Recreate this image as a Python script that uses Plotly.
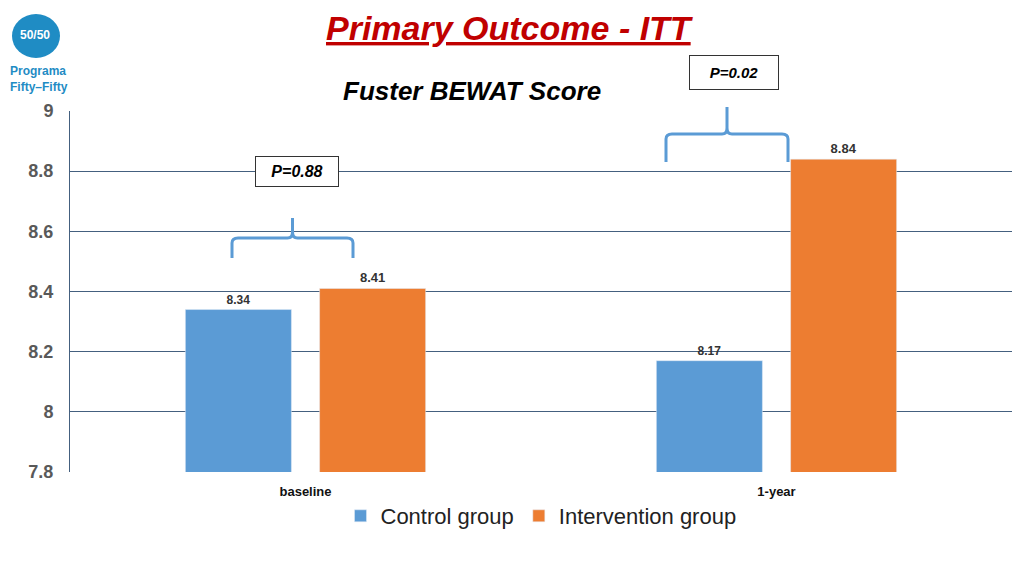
import plotly.graph_objects as go

categories = ["baseline", "1-year"]
control = [8.34, 8.17]
intervention = [8.41, 8.84]

OFF = 8  # page offset
L, R, T, B = 62, 20, 103, 112
PW, PH = 1024 - L - R, 576 - T - B
X = lambda v: (v - OFF - L) / PW
Y = lambda v: (576 - B - (v - OFF)) / PH

fig = go.Figure()
fig.add_bar(x=categories, y=control, name="Control group", marker_color="#5b9bd5",
            text=[f"<b>{v:.2f}</b>" for v in control], textposition="outside",
            textfont=dict(size=12, color="#333", family="Liberation Sans"))
fig.add_bar(x=categories, y=intervention, name="Intervention group", marker_color="#ed7d31",
            text=[f"<b>{v:.2f}</b>" for v in intervention], textposition="outside",
            textfont=dict(size=13, color="#333", family="Liberation Sans"))

fig.update_layout(
    width=1024, height=576, plot_bgcolor="white", paper_bgcolor="white",
    margin=dict(l=L, r=R, t=T, b=B, autoexpand=False),
    barmode="group", bargap=0.43, bargroupgap=0.21,
    font=dict(family="Liberation Sans, Arial"),
    yaxis=dict(range=[7.8, 9], tickvals=[7.8, 8, 8.2, 8.4, 8.6, 8.8, 9],
               ticktext=["<b>7.8</b>", "<b>8</b>", "<b>8.2</b>", "<b>8.4</b>", "<b>8.6</b>", "<b>8.8</b>", "<b>9</b>"],
               tickfont=dict(size=18, color="#595959", family="Liberation Sans"),
               showgrid=True, gridcolor="#44607f", gridwidth=1, showline=True, linecolor="#44607f",
               ticks="", ticklabelstandoff=12, zeroline=False),
    xaxis=dict(tickvals=categories, ticktext=["<b>baseline</b>", "<b>1-year</b>"],
               tickfont=dict(size=13, color="#111", family="Liberation Sans"), showline=False,
               ticklabelstandoff=10),
    legend=dict(orientation="h", x=0.5, xanchor="center", y=Y(516), yanchor="middle",
                font=dict(size=22, color="#222", family="Liberation Sans")),
)

def ann(px, py, text, xanchor="center", yanchor="middle", **kw):
    fig.add_annotation(x=X(px), y=Y(py), xref="paper", yref="paper", text=text, showarrow=False,
                       xanchor=xanchor, yanchor=yanchor, **kw)

ann(510, 28, "<b><i><u>Primary Outcome - ITT</u></i></b>",
    font=dict(size=34, color="#c00000", family="Liberation Sans"))
ann(472, 91, "<b><i>Fuster BEWAT Score</i></b>", font=dict(size=26, color="black", family="Liberation Sans"))
ann(734, 73, "<b><i>P=0.02</i></b>", font=dict(size=15, color="black"),
    bordercolor="#333", borderwidth=1, borderpad=8, bgcolor="white", width=72)
ann(297, 171, "<b><i>P=0.88</i></b>", font=dict(size=16, color="black"),
    bordercolor="#333", borderwidth=1, borderpad=6, bgcolor="white", width=70)

def brace(x0, x1, ytop, ybot, ypeak):
    xm = (x0 + x1) / 2
    p = (f"M {X(x0)},{Y(ybot)} L {X(x0)},{Y(ytop+5)} Q {X(x0)},{Y(ytop)} {X(x0+6)},{Y(ytop)} "
         f"L {X(xm-5)},{Y(ytop)} Q {X(xm)},{Y(ytop)} {X(xm)},{Y(ytop-6)} L {X(xm)},{Y(ypeak)} "
         f"M {X(xm)},{Y(ytop-6)} Q {X(xm)},{Y(ytop)} {X(xm+5)},{Y(ytop)} "
         f"L {X(x1-6)},{Y(ytop)} Q {X(x1)},{Y(ytop)} {X(x1)},{Y(ytop+5)} L {X(x1)},{Y(ybot)}")
    fig.add_shape(type="path", xref="paper", yref="paper", path=p, line=dict(color="#5b9bd5", width=3))

brace(232, 353, 238, 258, 218)
brace(666, 788, 134, 162, 107)

# Logo
fig.add_shape(type="circle", xref="paper", yref="paper", x0=X(12), x1=X(60), y0=Y(58), y1=Y(14),
              fillcolor="#1f8cc4", line=dict(width=0))
ann(35, 35, "<b>50/50</b>", font=dict(size=12, color="white"))
ann(8, 79, "<b>Programa<br>Fifty–Fifty</b>", xanchor="left", align="left",
    font=dict(size=12, color="#1f8cc4"))

fig.write_html("out.html")
